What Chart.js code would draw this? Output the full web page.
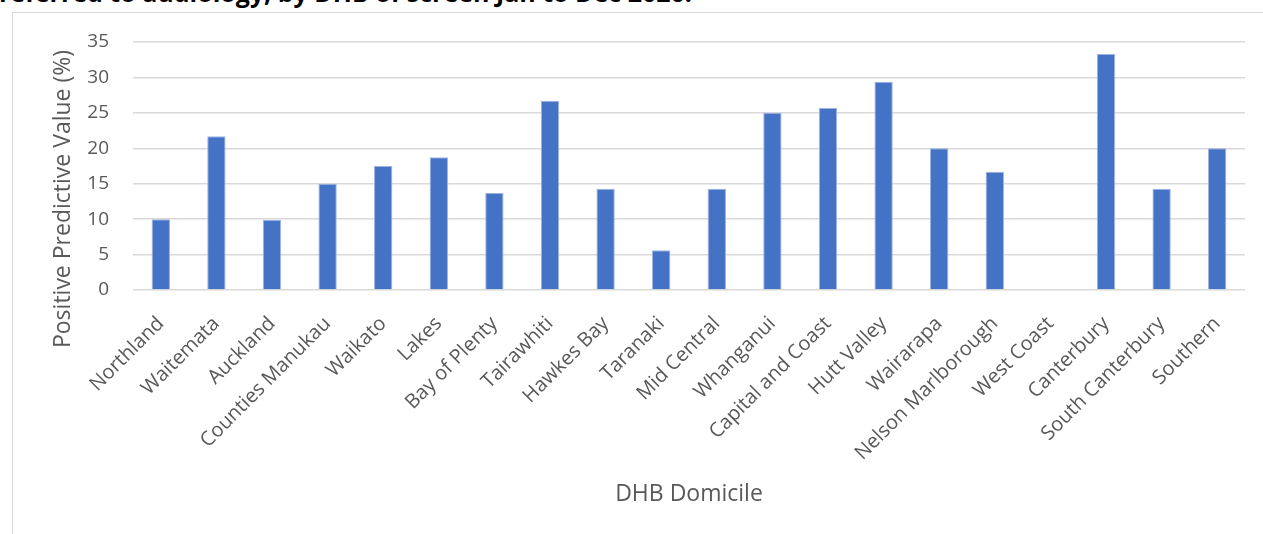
<!DOCTYPE html>
<html>
<head>
<meta charset="utf-8">
<script src="https://cdn.jsdelivr.net/npm/chart.js@4"></script>
<style>
  body { margin: 0; background: #fff; overflow: hidden; font-family: "Open Sans", sans-serif; }
  #caption {
    position: absolute; left: -1px; top: -20px;
    font: bold 25px/25px "Open Sans", sans-serif; color: #000; white-space: nowrap;
  }
  #box {
    position: absolute; left: 12px; top: 12px; width: 1300px; height: 560px;
    border: 1px solid #d9d9d9; background: #fff;
  }
  #dhbChart { position: absolute; left: 0; top: 0; }
</style>
</head>
<body>
<div id="caption">referred to audiology, by DHB of screen Jan to Dec 2020.</div>
<div id="box"><canvas id="dhbChart" width="1251" height="521"></canvas></div>
<script>
const dhbNames = [
  "Northland", "Waitemata", "Auckland", "Counties Manukau", "Waikato", "Lakes",
  "Bay of Plenty", "Tairawhiti", "Hawkes Bay", "Taranaki", "Mid Central", "Whanganui",
  "Capital and Coast", "Hutt Valley", "Wairarapa", "Nelson Marlborough", "West Coast",
  "Canterbury", "South Canterbury", "Southern"
];
const ppvValues = [
  10.0, 21.7, 9.9, 15.0, 17.5, 18.75, 13.7, 26.7, 14.3, 5.6,
  14.3, 25.0, 25.7, 29.4, 20.0, 16.7, 0, 33.3, 14.3, 20.0
];
const yTitle = "Positive Predictive Value (%)";
const xTitle = "DHB Domicile";

// y-axis title drawn by hand so it sits where Excel puts it
const yTitlePlugin = {
  id: "yTitle",
  afterDraw(c) {
    const ctx = c.ctx;
    ctx.save();
    ctx.translate(50, 186);
    ctx.rotate(-Math.PI / 2);
    ctx.font = '23px "Open Sans"';
    ctx.fillStyle = "#595959";
    ctx.textAlign = "center";
    ctx.textBaseline = "middle";
    ctx.fillText(yTitle, 0, 0);
    ctx.restore();
  },
};

const ctx = document.getElementById("dhbChart").getContext("2d");
new Chart(ctx, {
  type: "bar",
  data: {
    labels: dhbNames,
    datasets: [{
      data: ppvValues,
      backgroundColor: "#4472c4",
      borderColor: "#9db4e0",
      borderWidth: 1,
      barPercentage: 0.33,
      categoryPercentage: 1,
    }],
  },
  options: {
    responsive: false,
    animation: false,
    layout: { padding: { top: 29, right: 19, left: 0, bottom: 0 } },
    plugins: { legend: { display: false }, tooltip: { enabled: false } },
    scales: {
      x: {
        afterFit(scale) {
          scale.height = 244;
          scale.paddingLeft = 0;
          scale.paddingRight = 0;
        },
        grid: { display: false },
        border: { display: false },
        ticks: {
          color: "#595959",
          font: { family: "Open Sans", size: 20 },
          minRotation: 45, maxRotation: 45,
          padding: 14,
        },
        title: {
          display: true, text: xTitle, color: "#595959",
          font: { family: "Open Sans", size: 23 },
          padding: { top: 0, bottom: 26 },
        },
      },
      y: {
        min: 0, max: 35,
        afterFit(scale) {
          scale.width = 120;
          scale.paddingTop = 0;
          scale.paddingBottom = 0;
        },
        grid: { color: "#d9d9d9", lineWidth: 1.5, drawTicks: false },
        border: { display: false },
        ticks: {
          stepSize: 5, color: "#595959",
          font: { family: "Open Sans", size: 19 },
          padding: 24,
        },
      },
    },
  },
  plugins: [yTitlePlugin],
});
</script>
</body>
</html>
